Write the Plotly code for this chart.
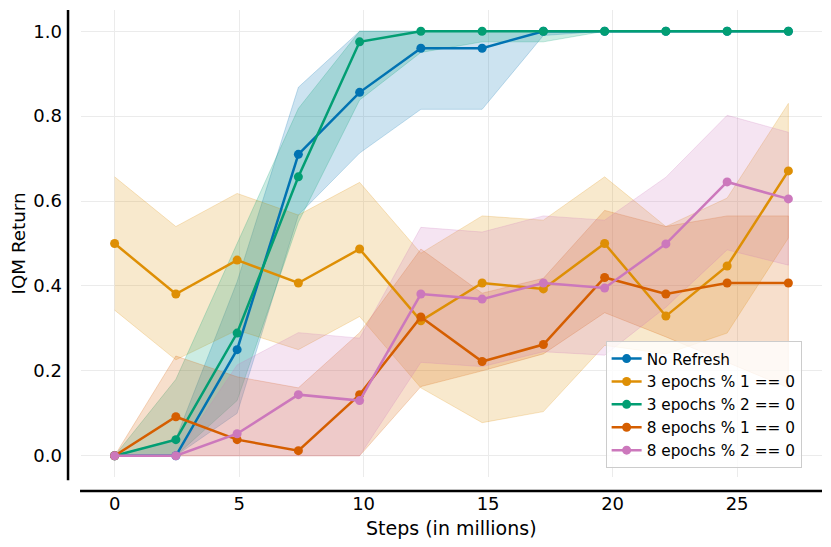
import plotly.graph_objects as go

# steps in millions
steps = [0, 2.46, 4.92, 7.38, 9.84, 12.3, 14.76, 17.22, 19.68, 22.14, 24.6, 27.06]

names = ["No Refresh", "3 epochs % 1 == 0", "3 epochs % 2 == 0",
         "8 epochs % 1 == 0", "8 epochs % 2 == 0"]
colors = ["#0173b2", "#de8f05", "#029e73", "#d55e00", "#cc78bc"]

# IQM return and its interval, one list per run
no_refresh = [0, 0, 0.25, 0.71, 0.856, 0.96, 0.96, 1.0, 1.0, 1.0, 1.0, 1.0]
no_refresh_lo = [0, 0, 0.10, 0.567, 0.713, 0.816, 0.816, 0.99, 1.0, 1.0, 1.0, 1.0]
no_refresh_hi = [0, 0.04, 0.41, 0.868, 1.0, 1.0, 1.0, 1.0, 1.0, 1.0, 1.0, 1.0]

e3_m1 = [0.5, 0.381, 0.461, 0.407, 0.487, 0.318, 0.407, 0.393, 0.5, 0.329, 0.447, 0.671]
e3_m1_lo = [0.343, 0.226, 0.296, 0.25, 0.328, 0.16, 0.078, 0.104, 0.26, 0.24, 0.289, 0.513]
e3_m1_hi = [0.657, 0.54, 0.618, 0.567, 0.644, 0.477, 0.565, 0.555, 0.657, 0.54, 0.607, 0.83]

e3_m2 = [0, 0.038, 0.289, 0.657, 0.975, 1.0, 1.0, 1.0, 1.0, 1.0, 1.0, 1.0]
e3_m2_lo = [0, 0, 0.13, 0.55, 0.838, 0.95, 0.975, 0.975, 1.0, 1.0, 1.0, 1.0]
e3_m2_hi = [0, 0.18, 0.5, 0.818, 1.0, 1.0, 1.0, 1.0, 1.0, 1.0, 1.0, 1.0]

e8_m1 = [0, 0.092, 0.038, 0.012, 0.144, 0.327, 0.222, 0.262, 0.42, 0.381, 0.407, 0.407]
e8_m1_lo = [0, 0, 0, 0, 0, 0.163, 0.2, 0.24, 0.337, 0.28, 0.22, 0.16]
e8_m1_hi = [0, 0.235, 0.186, 0.16, 0.29, 0.487, 0.383, 0.418, 0.578, 0.54, 0.565, 0.565]

e8_m2 = [0, 0, 0.052, 0.144, 0.13, 0.381, 0.369, 0.407, 0.395, 0.499, 0.645, 0.605]
e8_m2_lo = [0, 0, 0, 0, 0, 0.22, 0.21, 0.245, 0.237, 0.35, 0.485, 0.449]
e8_m2_hi = [0, 0, 0.214, 0.29, 0.277, 0.538, 0.527, 0.565, 0.555, 0.656, 0.802, 0.762]

runs = [
    (no_refresh, no_refresh_lo, no_refresh_hi),
    (e3_m1, e3_m1_lo, e3_m1_hi),
    (e3_m2, e3_m2_lo, e3_m2_hi),
    (e8_m1, e8_m1_lo, e8_m1_hi),
    (e8_m2, e8_m2_lo, e8_m2_hi),
]


def rgba(hex_color, a):
    h = hex_color.lstrip("#")
    r, g, b = int(h[0:2], 16), int(h[2:4], 16), int(h[4:6], 16)
    return f"rgba({r},{g},{b},{a})"


fig = go.Figure()

# shaded intervals first
for (mean, lo, hi), color in zip(runs, colors):
    fig.add_trace(go.Scatter(
        x=steps + steps[::-1], y=hi + lo[::-1],
        fill="toself", fillcolor=rgba(color, 0.2),
        line=dict(color=rgba(color, 0.22), width=1),
        mode="lines", hoverinfo="skip", showlegend=False))

# then the mean curves
for (mean, lo, hi), color, name in zip(runs, colors, names):
    fig.add_trace(go.Scatter(
        x=steps, y=mean, name=name, mode="lines+markers",
        line=dict(color=color, width=2.5),
        marker=dict(color=color, size=9)))

font = "DejaVu Sans"

fig.update_xaxes(
    range=[-1.35, 28.41], tickvals=[0, 5, 10, 15, 20, 25],
    showgrid=True, gridcolor="#ebebeb", gridwidth=1, zeroline=False,
    showline=False, ticks="", ticklabelstandoff=14, automargin=False,
    tickfont=dict(family=font, size=18, color="black"))
fig.update_yaxes(
    range=[-0.05, 1.05], tickvals=[0, 0.2, 0.4, 0.6, 0.8, 1.0],
    tickformat=".1f",
    showgrid=True, gridcolor="#ebebeb", gridwidth=1, zeroline=False,
    showline=False, ticks="", ticklabelstandoff=18, automargin=False,
    tickfont=dict(family=font, size=18, color="black"))

# offset spines
fig.add_shape(type="line", xref="paper", yref="paper",
              x0=-0.0175, x1=-0.0175, y0=-0.007, y1=1.0,
              line=dict(color="black", width=2.5))
fig.add_shape(type="line", xref="paper", yref="paper",
              x0=-0.0013, x1=1.0, y0=-0.030, y1=-0.030,
              line=dict(color="black", width=2.5))

fig.add_annotation(text="Steps (in millions)", xref="paper", yref="paper",
                   x=0.5, y=-0.1095, yanchor="middle", showarrow=False,
                   font=dict(family=font, size=19, color="black"))
fig.add_annotation(text="IQM Return", xref="paper", yref="paper",
                   x=-0.0837, y=0.5, xanchor="center", textangle=-90,
                   showarrow=False,
                   font=dict(family=font, size=18.3, color="black"))

# page body adds 8px around the plot div, so the figure is trimmed by that
fig.update_layout(
    width=823, height=539,
    margin=dict(l=73, r=9, t=2, b=70),
    plot_bgcolor="white", paper_bgcolor="white",
    legend=dict(x=0.708, y=0.019, xanchor="left", yanchor="bottom",
                bgcolor="rgba(255,255,255,0.8)", bordercolor="#cccccc",
                borderwidth=1, tracegroupgap=0,
                font=dict(family=font, size=15.3, color="black")),
)

fig.write_html("out.html")
